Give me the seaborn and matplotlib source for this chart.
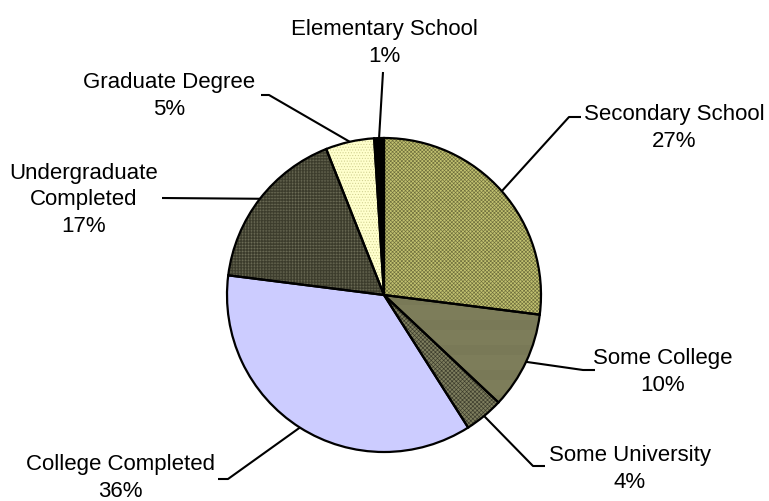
import matplotlib
matplotlib.use("Agg")
import matplotlib.pyplot as plt
import numpy as np
import seaborn as sns

# Education level distribution
categories = ["Secondary School", "Some College", "Some University",
              "College Completed", "Undergraduate\nCompleted",
              "Graduate Degree", "Elementary School"]
shares = [27, 10, 4, 36, 17, 5, 1]

fill_colors = ["#C2C270", "#B6B686", "#7E7E5E", "#CCCCFF", "#7C7C64", "#FFFFCC", "#000000"]
pattern_colors = ["#6E6E3C", "#55553C", "#3C3C2C", "#CCCCFF", "#3C3C2C", "#D0D090", "#000000"]
hatches = ["x" * 9, "-" * 16, "x" * 8, "", "+" * 11, "." * 6, ""]

sns.set_theme(style="white")
plt.rcParams["font.family"] = ["Liberation Sans", "DejaVu Sans"]
plt.rcParams["hatch.linewidth"] = 0.45

W, H = 769, 502
fig = plt.figure(figsize=(W / 100, H / 100), dpi=100)
ax = fig.add_axes([0, 0, 1, 1])

cx, cy, r = 384, 296, 157

# patterned fills
wedges, _ = ax.pie(shares, startangle=-90, counterclock=True,
                   center=(cx, cy), radius=r, colors=fill_colors,
                   wedgeprops=dict(linewidth=0))
for w, pc, h in zip(wedges, pattern_colors, hatches):
    w.set_edgecolor(pc)
    w.set_hatch(h)
    w.set_linewidth(0)

# black outlines on top
ax.pie(shares, startangle=-90, counterclock=True, center=(cx, cy), radius=r,
       colors=["none"] * len(shares),
       wedgeprops=dict(linewidth=1.6, edgecolor="black", fill=False))

ax.set_xlim(0, W)
ax.set_ylim(H, 0)
ax.set_aspect("equal")
ax.axis("off")

# label placement: text centre and leader elbow points
label_pos = [(674, 128), (663, 372), (630, 469), (120, 478), (84, 200), (169, 96), (384, 43)]
elbows = [[(581, 118), (569, 118)],
          [(595, 371), (583, 371)],
          [(545, 467), (533, 467)],
          [(218, 480), (228, 480)],
          [(162, 199)],
          [(261, 96), (269, 96)],
          [(383, 73)]]

for w, name, val, (tx, ty), pts in zip(wedges, categories, shares, label_pos, elbows):
    mid = np.deg2rad((w.theta1 + w.theta2) / 2)
    ax_pt = (cx + r * np.cos(mid), cy + r * np.sin(mid))
    xs = [p[0] for p in pts] + [ax_pt[0]]
    ys = [p[1] for p in pts] + [ax_pt[1]]
    ax.plot(xs, ys, color="black", lw=1.5, solid_capstyle="butt")
    ax.text(tx, ty, f"{name}\n{val}%", ha="center", va="center",
            fontsize=16, linespacing=1.35, color="black")

fig.savefig("out.png", dpi=100)
